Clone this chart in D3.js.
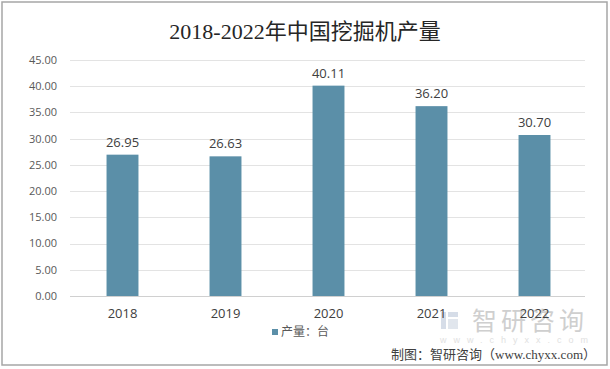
<!DOCTYPE html>
<html>
<head>
<meta charset="utf-8">
<script src="https://d3js.org/d3.v7.min.js"></script>
<style>
  body { margin: 0; background: #fff; }
  svg { display: block; }
</style>
</head>
<body>
<svg id="chart"></svg>
<script>
  // data
  const years = ["2018", "2019", "2020", "2021", "2022"];
  const output = [26.95, 26.63, 40.11, 36.20, 30.70];
  const yTicks = [0, 5, 10, 15, 20, 25, 30, 35, 40, 45];
  const title = "2018-2022年中国挖掘机产量";
  const legendLabel = "产量：台";
  const sourceText = "制图：智研咨询（www.chyxx.com）";

  const W = 610, H = 369;
  const margin = {left: 70, right: 25, top: 60, bottom: 73};
  const barColor = "#5b8fa8";

  const svg = d3.select("#chart").attr("width", W).attr("height", H);

  // outer frame
  svg.append("rect")
    .attr("x", 2).attr("y", 2)
    .attr("width", W - 5).attr("height", H - 6)
    .attr("fill", "#fff")
    .attr("stroke", "#a6a6a6")
    .attr("stroke-width", 1.5);

  const x = d3.scaleBand()
    .domain(years)
    .range([margin.left + 1, W - margin.right + 1])
    .paddingInner(0.69)
    .paddingOuter(0.345);

  const y = d3.scaleLinear()
    .domain([0, 45])
    .range([H - margin.bottom, margin.top]);

  // gridlines
  svg.append("g")
    .selectAll("line")
    .data(yTicks)
    .join("line")
    .attr("x1", margin.left)
    .attr("x2", W - margin.right)
    .attr("y1", d => Math.round(y(d)) + 0.5)
    .attr("y2", d => Math.round(y(d)) + 0.5)
    .attr("stroke", d => d === 0 ? "#d0d0d0" : "#e3e3e3")
    .attr("stroke-width", 1);

  // y axis labels
  svg.append("g")
    .selectAll("text")
    .data(yTicks)
    .join("text")
    .attr("x", 57)
    .attr("y", d => y(d))
    .attr("dy", "0.35em")
    .attr("text-anchor", "end")
    .attr("font-family", "'Open Sans', 'Liberation Sans', sans-serif")
    .attr("font-size", 11)
    .attr("fill", "#595959")
    .text(d => d.toFixed(2));

  // watermark
  const wm = svg.append("g").attr("opacity", 0.55);
  wm.append("rect").attr("x", 441).attr("y", 312).attr("width", 5).attr("height", 17).attr("fill", "#b5c3d6");
  wm.append("rect").attr("x", 448).attr("y", 312).attr("width", 10).attr("height", 5).attr("fill", "#b5c3d6");
  wm.append("rect").attr("x", 448).attr("y", 319).attr("width", 10).attr("height", 10).attr("fill", "#c9d3e0");
  wm.append("text")
    .attr("x", 472).attr("y", 330)
    .attr("font-family", "'Noto Sans CJK SC', sans-serif")
    .attr("font-size", 25)
    .attr("letter-spacing", 4)
    .attr("fill", "#a8a8a8")
    .text("智研咨询");
  wm.append("text")
    .attr("x", 440).attr("y", 343)
    .attr("font-family", "'Liberation Sans', sans-serif")
    .attr("font-size", 9)
    .attr("letter-spacing", 7)
    .attr("fill", "#c8c8c8")
    .text("www.chyxx.com");

  // bars
  svg.append("g")
    .selectAll("rect")
    .data(output)
    .join("rect")
    .attr("x", (d, i) => x(years[i]))
    .attr("width", x.bandwidth())
    .attr("y", d => y(d))
    .attr("height", d => y(0) - y(d))
    .attr("fill", barColor);

  // value labels
  svg.append("g")
    .selectAll("text")
    .data(output)
    .join("text")
    .attr("x", (d, i) => x(years[i]) + x.bandwidth() / 2)
    .attr("y", d => y(d) - 8)
    .attr("text-anchor", "middle")
    .attr("font-family", "'Open Sans', 'Liberation Sans', sans-serif")
    .attr("font-size", 13)
    .attr("fill", "#404040")
    .text(d => d.toFixed(2));

  // x labels
  svg.append("g")
    .selectAll("text")
    .data(years)
    .join("text")
    .attr("x", d => x(d) + x.bandwidth() / 2)
    .attr("y", 318)
    .attr("text-anchor", "middle")
    .attr("font-family", "'Open Sans', 'Liberation Sans', sans-serif")
    .attr("font-size", 13)
    .attr("fill", "#404040")
    .text(d => d);

  // title
  svg.append("text")
    .attr("x", W / 2)
    .attr("y", 39)
    .attr("text-anchor", "middle")
    .attr("font-family", "'Liberation Serif', 'Noto Sans CJK SC', serif")
    .attr("font-size", 22)
    .attr("fill", "#262626")
    .text(title);

  // legend
  svg.append("rect")
    .attr("x", 272).attr("y", 329)
    .attr("width", 6).attr("height", 6)
    .attr("fill", barColor);
  svg.append("text")
    .attr("x", 281).attr("y", 336)
    .attr("font-family", "'Noto Sans CJK SC', sans-serif")
    .attr("font-size", 12)
    .attr("fill", "#595959")
    .text(legendLabel);

  // source
  svg.append("text")
    .attr("x", 596).attr("y", 359)
    .attr("text-anchor", "end")
    .attr("font-family", "'Liberation Serif', 'Noto Sans CJK SC', serif")
    .attr("font-size", 13)
    .attr("fill", "#404040")
    .text(sourceText);
</script>
</body>
</html>
